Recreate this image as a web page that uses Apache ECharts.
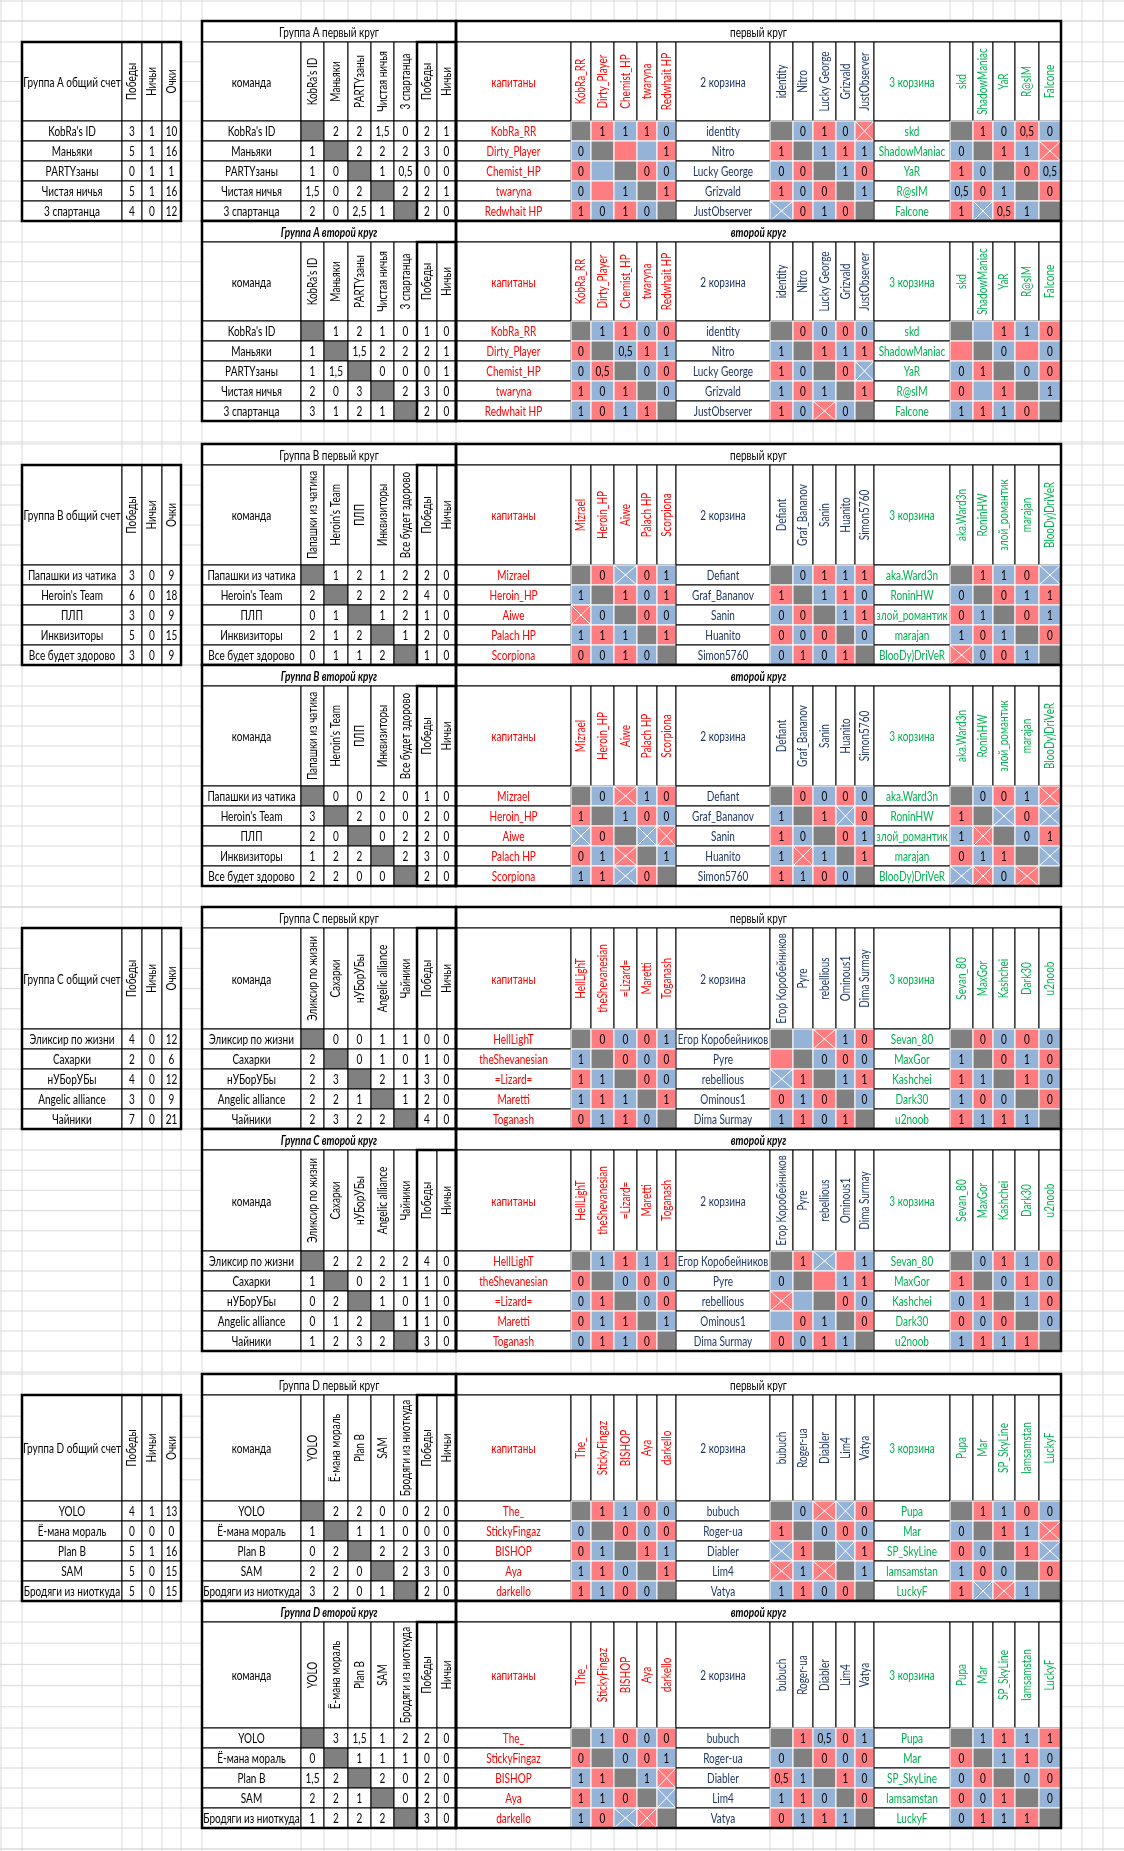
<!DOCTYPE html>
<html><head><meta charset="utf-8">
<script src="https://cdn.jsdelivr.net/npm/echarts@6/dist/echarts.min.js"></script>
<style>html,body{margin:0;padding:0;background:#fff}#c{width:1124px;height:1851px}</style>
</head><body><div id="c"></div>
<script>
// ===== DATA =====
const teamsA = ["KobRa's ID","Маньяки","PARTYзаны","Чистая ничья","3 спартанца"];
const summaryA = [[3,1,10],[5,1,16],[0,1,1],[5,1,16],[4,0,12]];
const matA1 = ["g 2 2 1,5 0 2 1","1 g 2 2 2 3 0","1 0 g 1 0,5 0 0","1,5 0 2 g 2 2 1","2 0 2,5 1 g 2 0"];
const matA2 = ["g 1 2 1 0 1 0","1 g 1,5 2 2 2 1","1 1,5 g 0 0 0 1","2 0 3 g 2 3 0","3 1 2 1 g 2 0"];
const capsA = ["KobRa_RR","Dirty_Player","Chemist_HP","twaryna","Redwhait HP"];
const bask2A = ["identity","Nitro","Lucky George","Grizvald","JustObserver"];
const bask3A = ["skd","ShadowManiac","YaR","R@sIM","Falcone"];
const capA1 = ["g r1 b1 r1 b0","b0 g r b r1","r0 b g r0 b0","b0 r b1 g r1","r1 b0 r1 b0 g"];
const b2A1 = ["g b0 r1 b0 rx","r1 g b1 r1 b1","b0 r0 g b1 r0","r1 b0 r0 g b1","bx r0 b1 r0 g"];
const b3A1 = ["g r1 b0 r0,5 b0","b0 g r1 b1 rx","r1 b0 g r0 b0,5","b0,5 r0 b1 g r0","r1 bx r0,5 b1 g"];
const capA2 = ["g b1 r1 b0 r0","r0 g b0,5 r1 b1","b0 r0,5 g b0 r0","r1 b0 r1 g b0","b1 r0 b1 r1 g"];
const b2A2 = ["g r0 b0 r0 b0","b1 g r1 b1 r1","r1 b0 g r0 bx","b1 r0 b1 g r1","r1 b0 rx b0 g"];
const b3A2 = ["g b r1 b1 r0","r g b0 r b0","b0 r1 g b0 r0","r0 b r1 g b1","b1 r1 b1 r0 g"];

const teamsB = ["Папашки из чатика","Heroin's Team","ПЛП","Инквизиторы","Все будет здорово"];
const summaryB = [[3,0,9],[6,0,18],[3,0,9],[5,0,15],[3,0,9]];
const matB1 = ["g 1 2 1 2 2 0","2 g 2 2 2 4 0","0 1 g 1 2 1 0","2 1 2 g 1 2 0","0 1 1 2 g 1 0"];
const matB2 = ["g 0 0 2 0 1 0","3 g 2 0 0 2 0","2 0 g 0 2 2 0","1 2 2 g 2 3 0","2 2 0 0 g 2 0"];
const capsB = ["Mizrael","Heroin_HP","Aiwe","Palach HP","Scorpiona"];
const bask2B = ["Defiant","Graf_Bananov","Sanin","Huanito","Simon5760"];
const bask3B = ["aka.Ward3n","RoninHW","злой_романтик","marajan","BlooDy)DriVeR"];
const capB1 = ["g r0 bx r0 b1","b1 g r1 b0 r1","rx b0 g r0 b0","b1 r1 b1 g r1","r0 b0 r1 b0 g"];
const b2B1 = ["g b0 r1 b1 r1","r1 g b1 r1 b0","b0 r0 g b1 r1","r0 b0 r0 g b0","b0 r1 b0 r1 g"];
const b3B1 = ["g r1 b1 r0 bx","b0 g r0 b1 r1","r0 b1 g r0 b1","b1 r0 b1 g r0","rx b0 r0 b1 g"];
const capB2 = ["g b0 rx b1 r0","r1 g b1 r0 b0","bx r0 g bx rx","r0 b1 rx g b1","b1 r1 bx r0 g"];
const b2B2 = ["g r0 b0 r0 b0","b1 g r1 bx r0","r1 b0 g r0 b1","b1 rx b1 g r1","r1 b1 r0 b0 g"];
const b3B2 = ["g b0 r0 b1 rx","r1 g bx r0 bx","b1 rx g b0 r1","r0 b1 r1 g bx","bx rx b0 rx g"];

const teamsC = ["Эликсир по жизни","Сахарки","нУБорУБы","Angelic alliance","Чайники"];
const summaryC = [[4,0,12],[2,0,6],[4,0,12],[3,0,9],[7,0,21]];
const matC1 = ["g 0 0 1 1 0 0","2 g 0 1 0 1 0","2 3 g 2 1 3 0","2 2 1 g 1 2 0","2 3 2 2 g 4 0"];
const matC2 = ["g 2 2 2 2 4 0","1 g 0 2 1 1 0","0 2 g 1 0 1 0","0 1 2 g 1 1 0","1 2 3 2 g 3 0"];
const capsC = ["HellLighT","theShevanesian","=Lizard=","Maretti","Toganash"];
const bask2C = ["Егор Коробейников","Pyre","rebellious","Ominous1","Dima Surmay"];
const bask3C = ["Sevan_80","MaxGor","Kashchei","Dark30","u2noob"];
const capC1 = ["g r0 b0 r0 b1","b1 g r0 b0 r0","r1 b1 g r0 b0","b1 r1 b1 g r1","r0 b1 r1 b0 g"];
const b2C1 = ["g b rx b1 r0","r g b0 r0 b0","bx r1 g b1 r1","r0 b1 r0 g b0","b1 r1 b0 r1 g"];
const b3C1 = ["g r0 b0 r0 b0","b1 g r0 b1 r0","r1 b1 g r1 b0","b1 r0 b0 g r0","r1 b1 r1 b1 g"];
const capC2 = ["g b1 r1 b1 r1","r0 g b0 r0 b0","b0 r1 g b0 r0","r0 b1 r1 g b1","b0 r1 b1 r0 g"];
const b2C2 = ["g r1 bx r b1","b0 g r b1 r1","rx b g r0 b0","b r0 b1 g r0","r0 b0 r1 b1 g"];
const b3C2 = ["g b0 r1 b1 r0","r1 g b0 r1 b0","b0 r1 g b1 r0","r0 b0 r0 g b0","b1 r1 b1 r1 g"];

const teamsD = ["YOLO","Ё-мана мораль","Plan B","SAM","Бродяги из ниоткуда"];
const summaryD = [[4,1,13],[0,0,0],[5,1,16],[5,0,15],[5,0,15]];
const matD1 = ["g 2 2 0 0 2 0","1 g 1 1 0 0 0","0 2 g 2 2 3 0","2 2 0 g 2 3 0","3 2 0 1 g 2 0"];
const matD2 = ["g 3 1,5 1 2 2 0","0 g 1 1 1 0 0","1,5 2 g 2 0 2 0","2 2 1 g 0 2 0","1 2 2 2 g 3 0"];
const capsD = ["The_","StickyFingaz","BISHOP","Aya","darkello"];
const bask2D = ["bubuch","Roger-ua","Diabler","Lim4","Vatya"];
const bask3D = ["Pupa","Mar","SP_SkyLine","Iamsamstan","LuckyF"];
const capD1 = ["g r1 b1 r0 b0","b0 g r0 b0 r0","r0 b1 g r1 b1","b1 r1 b0 g r1","r1 b1 r0 b0 g"];
const b2D1 = ["g b0 rx bx r0","r1 g b0 r0 b0","bx r1 g bx r1","rx b1 rx g b1","b1 r1 b0 r0 g"];
const b3D1 = ["g r1 b1 r0 b0","b0 g r1 b1 rx","r0 b0 g r1 bx","b1 r0 b0 g r0","r1 bx rx b1 g"];
const capD2 = ["g b1 r0 b0 r0","r0 g b0 r0 b1","b1 r1 g b1 rx","r1 b1 r0 g bx","b1 r0 bx rx g"];
const b2D2 = ["g r1 b0,5 r0 b1","b0 g r0 b0 r0","r0,5 b1 g r1 b0","b1 r1 b0 g r0","r0 b1 r1 b1 g"];
const b3D2 = ["g b1 r1 b1 r1","r0 g b1 r1 b0","b0 r0 g b0 r0","r0 b0 r1 g b0","b0 r1 b1 r1 g"];

// ===== LAYOUT =====
const groups = [
 {n:"A",T:21,H:79,sub:4,teams:teamsA,sum:summaryA,mat:[matA1,matA2],caps:capsA,b2:bask2A,b3:bask3A,c:[[capA1,b2A1,b3A1],[capA2,b2A2,b3A2]]},
 {n:"B",T:444,H:100,sub:5,teams:teamsB,sum:summaryB,mat:[matB1,matB2],caps:capsB,b2:bask2B,b3:bask3B,c:[[capB1,b2B1,b3B1],[capB2,b2B2,b3B2]]},
 {n:"C",T:907,H:101,sub:5,teams:teamsC,sum:summaryC,mat:[matC1,matC2],caps:capsC,b2:bask2C,b3:bask3C,c:[[capC1,b2C1,b3C1],[capC2,b2C2,b3C2]]},
 {n:"D",T:1374,H:106,sub:5,teams:teamsD,sum:summaryD,mat:[matD1,matD2],caps:capsD,b2:bask2D,b3:bask3D,c:[[capD1,b2D1,b3D1],[capD2,b2D2,b3D2]]}
];
const XS = [22,122,142,162,181];
const XT = [202,301,324,348,371,394,417,437,456];
const XR = [[456,571,591,614,637,657,676],[676,770,793,813,836,855,874],[874,950,973,993,1015,1039,1061]];
const RED='#ff0000', NAVY='#1f3864', GREEN='#00b050';
const FILL={b:'#95b3d7',r:'#ff7c80',g:'#808080'};

const cells=[];
const vLines=[1,22,122,142,162,181,202].concat(XT.slice(1),XR[0].slice(1),XR[1].slice(1),XR[2].slice(1),[1082,1103]);
const hLines=[1,21];
groups.forEach(g=>{
  for(let r=0;r<2;r++){
    const y0=g.T+r*(21+g.H+100);
    hLines.push(y0,y0+21);
    for(let k=1;k<g.sub;k++) hLines.push(y0+21+g.H*k/g.sub);
    for(let i=0;i<=5;i++) hLines.push(y0+21+g.H+20*i);
  }
  hLines.push(g.T+2*(21+g.H+100)+21);
});
hLines.push(1849);
vLines.forEach(x=>cells.push({t:'line',v:[x,0,x,1851]}));
hLines.forEach(y=>cells.push({t:'line',v:[0,y,1124,y]}));

function cell(x0,y0,x1,y1,o){cells.push(Object.assign({t:'cell',v:[x0,y0,x1,y1]},o));}
function thick(x0,y0,x1,y1){cells.push({t:'thick',v:[x0,y0,x1,y1]});}

groups.forEach(g=>{
  for(let r=0;r<2;r++){
    const y0=g.T+r*(21+g.H+100), yh=y0+21, yd=yh+g.H, ye=yd+100;
    const bi = r===1;
    if(r===0){
      cell(XS[0],yh,XS[1],yd,{text:'Группа '+g.n+' общий счет'});
      ['Победы','Ничьи','Очки'].forEach((s,k)=>cell(XS[k+1],yh,XS[k+2],yd,{text:s,rot:true}));
      g.teams.forEach((tn,i)=>{
        cell(XS[0],yd+20*i,XS[1],yd+20*i+20,{text:tn});
        g.sum[i].forEach((v,k)=>cell(XS[k+1],yd+20*i,XS[k+2],yd+20*i+20,{text:String(v)}));
      });
    }
    cell(XT[0],y0,XT[8],yh,{text:'Группа '+g.n+(r?' второй круг':' первый круг'),bi:bi});
    cell(XT[0],yh,XT[1],yd,{text:'команда'});
    g.teams.forEach((tn,k)=>cell(XT[k+1],yh,XT[k+2],yd,{text:tn,rot:true}));
    cell(XT[6],yh,XT[7],yd,{text:'Победы',rot:true});
    cell(XT[7],yh,XT[8],yd,{text:'Ничьи',rot:true});
    g.teams.forEach((tn,i)=>{
      const ya=yd+20*i, yb=ya+20;
      cell(XT[0],ya,XT[1],yb,{text:tn});
      g.mat[r][i].split(' ').forEach((v,k)=>{
        if(v==='g') cell(XT[k+1],ya,XT[k+2],yb,{fill:FILL.g});
        else cell(XT[k+1],ya,XT[k+2],yb,{text:v});
      });
    });
    cell(XR[0][0],y0,XR[2][6],yh,{text:r?'второй круг':'первый круг',bi:bi});
    const heads=[['капитаны',g.caps,RED],['2 корзина',g.b2,NAVY],['3 корзина',g.b3,GREEN]];
    heads.forEach((hd,b)=>{
      const X=XR[b];
      cell(X[0],yh,X[1],yd,{text:hd[0],color:hd[2]});
      hd[1].forEach((nm,k)=>cell(X[k+1],yh,X[k+2],yd,{text:nm,rot:true,color:hd[2]}));
      hd[1].forEach((nm,i)=>{
        const ya=yd+20*i, yb=ya+20;
        cell(X[0],ya,X[1],yb,{text:nm,color:hd[2]});
        g.c[r][b][i].split(' ').forEach((tok,k)=>{
          const f=tok[0], rest=tok.slice(1);
          cell(X[k+1],ya,X[k+2],yb,{fill:FILL[f],white:true,cross:rest==='x',text:(rest==='x'?'':rest)});
        });
      });
    });
    if(r===0) thick(XS[0],yh,XS[4],ye);
    thick(XT[0],y0,XT[8],ye);
    thick(XT[6],yh,XT[8],ye);
    thick(XR[0][0],y0,XR[2][6],ye);
  }
});

const chart=echarts.init(document.getElementById('c'),null,{renderer:'canvas'});
chart.setOption({
  animation:false,
  grid:{left:0,right:0,top:0,bottom:0},
  xAxis:{type:'value',min:0,max:1124,show:false},
  yAxis:{type:'value',min:0,max:1851,inverse:true,show:false},
  series:[{
    type:'custom',
    data:cells.map(c=>c.v),
    renderItem:function(params,api){
      const c=cells[params.dataIndex];
      const p0=api.coord([api.value(0),api.value(1)]);
      const p1=api.coord([api.value(2),api.value(3)]);
      if(c.t==='line'){
        return {type:'line',shape:{x1:p0[0],y1:p0[1],x2:p1[0],y2:p1[1]},style:{stroke:'#d9d9d9',lineWidth:1}};
      }
      const x=p0[0],y=p0[1],w=p1[0]-p0[0],h=p1[1]-p0[1];
      if(c.t==='thick'){
        return {type:'rect',shape:{x:x,y:y,width:w,height:h},style:{fill:null,stroke:'#000',lineWidth:2.5}};
      }
      const ch=[{type:'rect',shape:{x:x,y:y,width:w,height:h},style:{fill:c.fill||'#fff',stroke:c.white?'#fff':'#000',lineWidth:1}}];
      if(c.cross){
        ch.push({type:'line',shape:{x1:x,y1:y,x2:x+w,y2:y+h},style:{stroke:'#fff',lineWidth:1}});
        ch.push({type:'line',shape:{x1:x+w,y1:y,x2:x,y2:y+h},style:{stroke:'#fff',lineWidth:1}});
      }
      if(c.text){
        ch.push({type:'text',x:x+w/2,y:y+h/2+(c.rot?0:1),rotation:c.rot?Math.PI/2:0,scaleX:0.8,
          style:{text:c.text,fill:c.color||'#000',fontSize:12.5,fontFamily:'Lato',
            fontWeight:c.bi?'bold':'normal',fontStyle:c.bi?'italic':'normal',align:'center',verticalAlign:'middle'}});
      }
      return {type:'group',children:ch};
    }
  }]
});
</script></body></html>
